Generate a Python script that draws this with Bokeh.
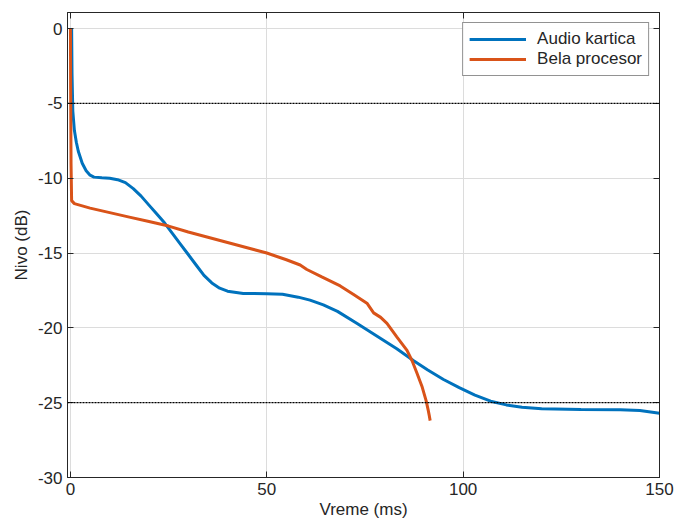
from bokeh.plotting import figure
from bokeh.models import Span, Range1d, Legend, LegendItem, FixedTicker, LinearAxis
from bokeh.embed import file_html
from bokeh.resources import INLINE

# Audio kartica (blue)
audio_x = [0.3, 0.4, 0.6, 1.0, 1.5, 2.0, 3.0, 4.0, 5.0, 6.0, 8.0, 10.0, 12.0, 14.0, 16.0, 18.0,
           20.0, 22.0, 24.0, 26.0, 28.0, 30.0, 32.0, 34.0, 36.0, 38.0, 40.0, 44.0, 50.0, 54.0,
           58.0, 61.0, 64.4, 68.0, 72.9, 78.0, 83.1, 87.4, 91.0, 95.0, 99.0, 103.0, 107.0,
           111.0, 115.0, 120.0, 130.0, 140.0, 145.0, 150.0]
audio_y = [0.0, -3.0, -5.5, -6.8, -7.6, -8.2, -9.0, -9.5, -9.8, -9.93, -9.97, -10.0, -10.1, -10.3,
           -10.7, -11.2, -11.8, -12.4, -13.0, -13.7, -14.4, -15.1, -15.8, -16.5, -17.0, -17.35,
           -17.55, -17.7, -17.72, -17.75, -17.95, -18.15, -18.47, -18.9, -19.7, -20.55, -21.4,
           -22.2, -22.82, -23.45, -24.0, -24.5, -24.9, -25.15, -25.3, -25.4, -25.45, -25.47,
           -25.53, -25.7]

# Bela procesor (orange)
bela_x = [0.0, 0.05, 0.15, 0.3, 1.0, 5.0, 10.0, 15.0, 20.0, 25.0, 30.0, 35.0, 40.0, 45.0, 50.0,
          55.0, 58.5, 60.2, 64.0, 68.7, 72.0, 75.5, 77.2, 79.0, 80.6, 83.1, 85.7, 87.0,
          88.2, 89.5, 90.6, 91.1, 91.4, 91.6]
bela_y = [0.0, -4.0, -9.0, -11.5, -11.7, -12.0, -12.3, -12.6, -12.9, -13.2, -13.6, -13.95, -14.3,
          -14.65, -15.0, -15.45, -15.8, -16.1, -16.6, -17.2, -17.75, -18.35, -19.0, -19.3,
          -19.7, -20.6, -21.5, -22.2, -23.0, -23.9, -24.9, -25.5, -25.9, -26.2]

x_ticks = [0, 50, 100, 150]
y_ticks = [-30, -25, -20, -15, -10, -5, 0]
ref_levels = [-5, -25]

FONT = "Liberation Sans"
AX = "#262626"

p = figure(width=675, height=525, output_backend="svg", toolbar_location=None,
           x_range=Range1d(-0.75, 150), y_range=Range1d(-30, 1.07),
           min_border_left=67, min_border_right=16, min_border_top=12, min_border_bottom=48)
p.background_fill_color = "white"
p.border_fill_color = "white"
p.outline_line_color = AX
p.outline_line_width = 1

p.xaxis.ticker = FixedTicker(ticks=x_ticks)
p.yaxis.ticker = FixedTicker(ticks=y_ticks)
p.xaxis.major_label_overrides = {t: str(t) for t in x_ticks}
p.yaxis.major_label_overrides = {t: str(t) for t in y_ticks}
p.xaxis.axis_label = "Vreme (ms)"
p.yaxis.axis_label = "Nivo (dB)"
for ax in (p.xaxis[0], p.yaxis[0]):
    ax.axis_line_color = AX
    ax.major_tick_line_color = AX
    ax.major_tick_in = 6
    ax.major_tick_out = 0
    ax.minor_tick_line_color = None
    ax.major_label_text_font = FONT
    ax.major_label_text_font_size = "17px"
    ax.major_label_text_color = AX
    ax.axis_label_text_font = FONT
    ax.axis_label_text_font_size = "17px"
    ax.axis_label_text_font_style = "normal"
    ax.axis_label_text_color = AX
p.xaxis.major_label_standoff = 5
p.xaxis.axis_label_standoff = 2
p.yaxis.major_label_standoff = 5
p.yaxis.axis_label_standoff = 4

top = LinearAxis(ticker=FixedTicker(ticks=x_ticks), major_label_text_font_size="0px",
                 major_tick_in=6, major_tick_out=0, minor_tick_line_color=None,
                 axis_line_color=AX, major_tick_line_color=AX, major_label_standoff=0)
right = LinearAxis(ticker=FixedTicker(ticks=y_ticks), major_label_text_font_size="0px",
                   major_tick_in=6, major_tick_out=0, minor_tick_line_color=None,
                   axis_line_color=AX, major_tick_line_color=AX, major_label_standoff=0)
p.add_layout(top, "above")
p.add_layout(right, "right")

p.xgrid.grid_line_color = "#dcdcdc"
p.ygrid.grid_line_color = "#dcdcdc"
p.xgrid.ticker = FixedTicker(ticks=x_ticks)
p.ygrid.ticker = FixedTicker(ticks=y_ticks)

for lv in ref_levels:
    p.add_layout(Span(location=lv, dimension="width", line_color="black",
                      line_width=1.2, line_dash="2 1"))

r1 = p.line(audio_x, audio_y, line_color="#0072BD", line_width=3)
r2 = p.line(bela_x, bela_y, line_color="#D95319", line_width=3)

legend = Legend(items=[LegendItem(label="Audio kartica", renderers=[r1]),
                       LegendItem(label="Bela procesor", renderers=[r2])],
                location="top_right", label_text_font=FONT, label_text_font_size="17px",
                label_text_color=AX, border_line_color=AX, border_line_width=1,
                glyph_width=57, glyph_height=18, label_standoff=11, padding=6, spacing=0,
                margin=10, label_height=18)
p.add_layout(legend)

open("out.html", "w").write(file_html(p, INLINE))
